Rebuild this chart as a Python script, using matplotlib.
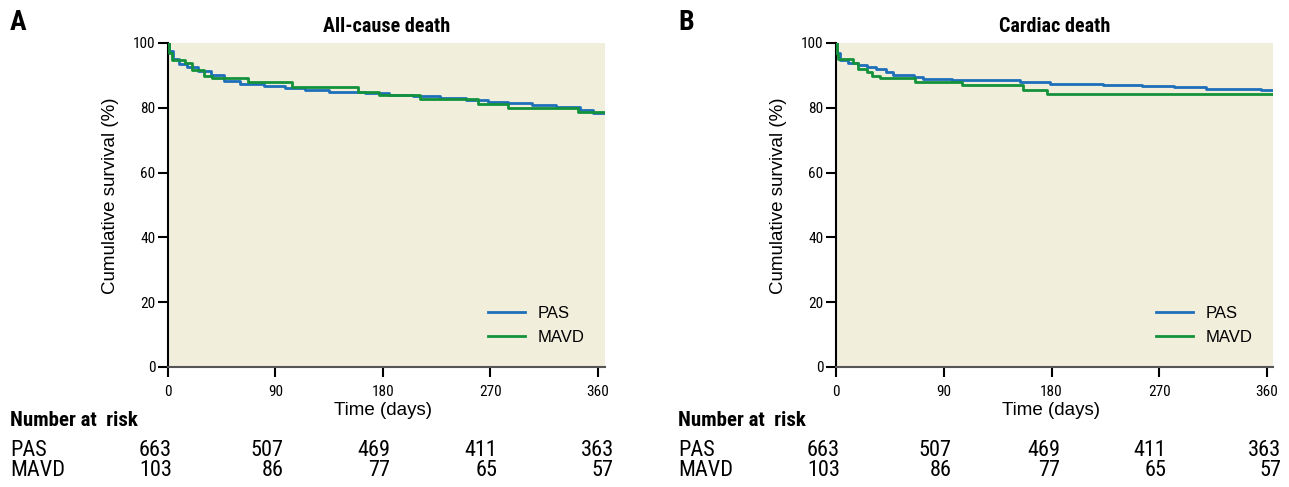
import matplotlib
matplotlib.use('Agg')
import matplotlib.pyplot as plt
import matplotlib.transforms as mtransforms

# ---------------- data ----------------
panel_letters = ['A', 'B']
panel_titles = ['All-cause death', 'Cardiac death']
groups = ['PAS', 'MAVD']
xticks = [0, 90, 180, 270, 360]
yticks = [0, 20, 40, 60, 80, 100]

# All-cause death: step times (days) and survival (%) after each step
all_pas_t = [0, 1, 4, 9, 16, 25, 36, 47, 60, 80, 98, 115, 135, 165, 185, 205, 228, 250, 268, 285, 305, 325, 345, 356, 366]
all_pas_s = [100, 97.5, 95.0, 93.5, 92.5, 91.3, 90.2, 88.3, 87.3, 86.7, 86.0, 85.4, 84.8, 84.5, 84.1, 83.6, 82.9, 82.4, 81.9, 81.4, 80.8, 80.2, 79.3, 78.3, 78.3]
all_mavd_t = [0, 1, 3, 14, 20, 30, 37, 67, 103.5, 159, 177, 211, 259.5, 285, 343, 366]
all_mavd_s = [100, 97.0, 94.8, 93.8, 91.7, 89.8, 89.1, 87.9, 86.3, 85.0, 83.8, 82.6, 81.1, 79.8, 78.6, 78.6]

# Cardiac death
card_pas_t = [0, 1, 3, 10, 18, 26, 33, 42, 48, 65, 73, 97, 154, 179, 223, 256, 282, 309, 355, 365]
card_pas_s = [100, 96.8, 94.8, 93.7, 93.2, 92.6, 91.9, 91.2, 90.1, 89.4, 88.8, 88.6, 88.1, 87.5, 87.1, 86.7, 86.3, 85.9, 85.5, 85.5]
card_mavd_t = [0, 1, 2, 14, 18, 26, 30, 37, 66, 105, 156, 176, 365]
card_mavd_s = [100, 96.5, 95.0, 93.7, 91.9, 91.2, 89.9, 89.1, 88.1, 86.9, 85.5, 84.4, 84.4]

# Number at risk
risk_pas = [663, 507, 469, 411, 363]
risk_mavd = [103, 86, 77, 65, 57]

# ---------------- style ----------------
W, H = 1289, 487
NARROW = ['Roboto Condensed', 'PT Sans Narrow', 'DejaVu Sans']
REG = ['Liberation Sans', 'DejaVu Sans']
BG = '#F1EEDC'
BLUE = '#1E6FBA'
GREEN = '#13923B'

fig = plt.figure(figsize=(W / 100, H / 100), dpi=100)

def fx(px):
    return px / W

def fy(py):
    return 1 - py / H

panels = [
    dict(left=168, right=605, xmax=366, data=[(all_pas_t, all_pas_s), (all_mavd_t, all_mavd_s)], letter_x=10,
         risk_offsets=[4, 8, 7, 7, 16]),
    dict(left=836, right=1273, xmax=365, data=[(card_pas_t, card_pas_s), (card_mavd_t, card_mavd_s)], letter_x=678,
         risk_offsets=[4, 8, 9, 7, 14]),
]
top, bottom = 43, 367

for i, p in enumerate(panels):
    ax = fig.add_axes([fx(p['left']), fy(bottom), (p['right'] - p['left']) / W, (bottom - top) / H])
    ax.set_facecolor(BG)
    colors = [BLUE, GREEN]
    for (t, s), c, g in zip(p['data'], colors, groups):
        ax.step(t, s, where='post', color=c, lw=2.0, label=g, zorder=3 if c == GREEN else 2)
    ax.set_xlim(0, p['xmax'])
    ax.set_ylim(0, 100)
    ax.set_xticks(xticks)
    ax.set_yticks(yticks)
    for lab in ax.get_xticklabels() + ax.get_yticklabels():
        lab.set_family(NARROW)
        lab.set_fontsize(11)
    ax.tick_params(axis='y', direction='out', length=7, width=1.5, pad=2, colors='black')
    ax.tick_params(axis='x', direction='out', length=7, width=1.5, pad=6, colors='black')
    for side in ['top', 'right']:
        ax.spines[side].set_visible(False)
    ax.spines['left'].set_linewidth(1.5)
    ax.spines['left'].set_color('black')
    ax.spines['bottom'].set_linewidth(1.5)
    ax.spines['bottom'].set_color('#555555')

    ax.set_title(panel_titles[i], family=NARROW, fontsize=14.5, fontweight='bold', pad=8)
    ax.set_ylabel('Cumulative survival (%)', family=REG, fontsize=13.5)
    ax.yaxis.set_label_coords(-0.112, 0.528)
    ax.set_xlabel('Time (days)', family=REG, fontsize=13.5)
    ax.xaxis.set_label_coords(0.492, -0.108)

    # legend
    lx = p['left'] + 320
    ax.legend(loc='upper left', bbox_to_anchor=(fx(lx), fy(306)), bbox_transform=fig.transFigure,
              frameon=False, borderpad=0, borderaxespad=0, handlelength=2.2, handletextpad=0.8,
              labelspacing=0.55, prop={'family': REG, 'size': 12})

    # panel letter
    fig.text(fx(p['letter_x']), fy(22), panel_letters[i], family=NARROW, fontsize=20,
             fontweight='bold', ha='left', va='center')

    # number at risk table
    fig.text(fx(p['letter_x']), fy(421), 'Number at  risk', family=NARROW, fontsize=15,
             fontweight='bold', ha='left', va='center')
    for row_y, g, vals in [(450, groups[0], risk_pas), (471, groups[1], risk_mavd)]:
        fig.text(fx(p['letter_x']), fy(row_y), g, family=NARROW, fontsize=16, ha='left', va='center')
        for xv, v, off in zip(xticks, vals, p['risk_offsets']):
            trans = mtransforms.blended_transform_factory(ax.transData, fig.transFigure) + \
                mtransforms.ScaledTranslation(off / 100, 0, fig.dpi_scale_trans)
            fig.text(xv, fy(row_y), str(v), transform=trans, family=NARROW, fontsize=16,
                     ha='right', va='center')

fig.savefig('out.png', dpi=100)
